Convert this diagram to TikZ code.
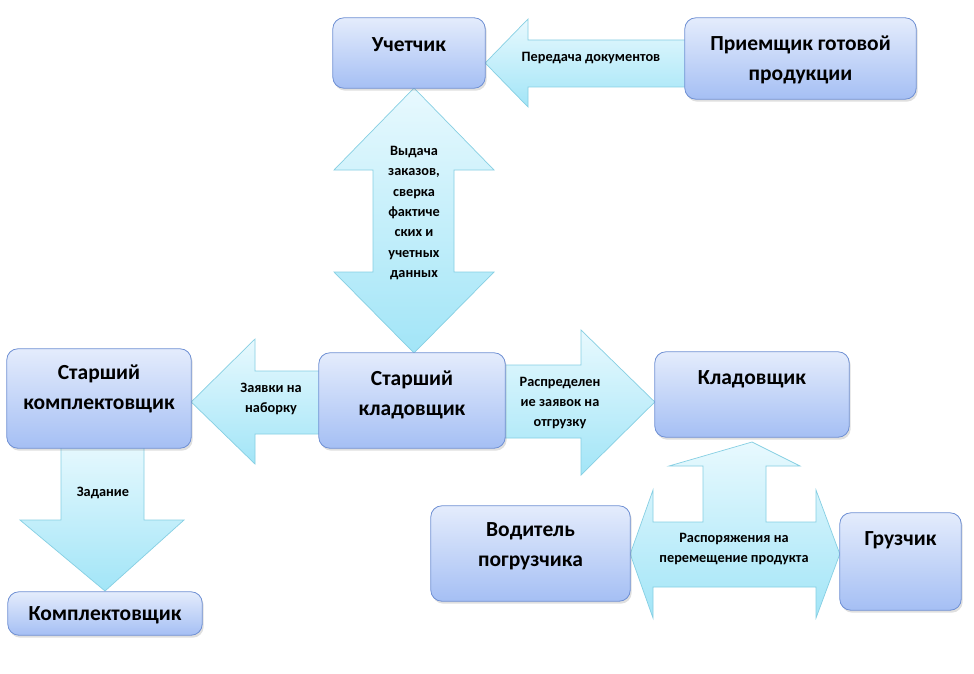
\documentclass[tikz,border=0pt]{standalone}
\usepackage{fontspec}
\setmainfont{Carlito}
\usetikzlibrary{shadows}
\definecolor{boxtop}{HTML}{E4ECFC}
\definecolor{boxbot}{HTML}{A5BFF4}
\definecolor{boxline}{HTML}{6F90D4}
\definecolor{arrtop}{HTML}{E8F9FE}
\definecolor{arrbot}{HTML}{A2E5F7}
\definecolor{arrline}{HTML}{86CFE3}
\begin{document}
\begin{tikzpicture}[x=1pt,y=-1pt,
 box/.style={draw=boxline, line width=0.8pt, rounded corners=11pt, top color=boxtop, bottom color=boxbot,
   drop shadow={opacity=0.25, shadow xshift=1.5pt, shadow yshift=-2.5pt}, inner sep=0pt},
 btxt/.style={font=\fontsize{21.5}{30}\selectfont\bfseries, align=center, inner sep=0pt},
 atxt/.style={font=\fontsize{14.3}{20.3}\selectfont\bfseries, align=center, inner sep=0pt},
 arr/.style={draw=arrline, line width=0.7pt, top color=arrtop, bottom color=arrbot, line join=miter}]
\fill[white] (0,0) rectangle (974,674);
\useasboundingbox (0,0) rectangle (974,674);

% ---------- boxes (placed first as named nodes, drawn later on top) ----------
\path
 (409,53)     node[minimum width=152pt, minimum height=70pt] (uch) {}
 (800.5,58.5) node[minimum width=231pt, minimum height=81pt] (prm) {}
 (412,400.5)  node[minimum width=186pt, minimum height=95pt] (skl) {}
 (99,398.5)   node[minimum width=184pt, minimum height=99pt] (skm) {}
 (752,394.5)  node[minimum width=194pt, minimum height=85pt] (kl) {}
 (530.5,553.5) node[minimum width=199pt, minimum height=95pt] (vod) {}
 (900.5,561.5) node[minimum width=121pt, minimum height=97pt] (gr) {}
 (105,613.5)  node[minimum width=194pt, minimum height=43pt] (km) {};

% ---------- arrows ----------
% Передача документов
\draw[arr] (uch.east |- 0,63) -- (528,19) -- (528,40) -- (700,40) -- (700,87) -- (528,87) -- (528,107) -- cycle;
% Выдача заказов (double vertical)
\draw[arr] (414,88) -- (494,170) -- (454,170) -- (454,272) -- (494,272) -- (414,353)
   -- (334,272) -- (373,272) -- (373,170) -- (334,170) -- cycle;
% Заявки на наборку
\draw[arr] (skm.east |- 0,402) -- (255,339) -- (255,371) -- (330,371) -- (330,434) -- (255,434) -- (255,464) -- cycle;
% Распределение заявок
\draw[arr] (495,365) -- (581,365) -- (581,330) -- (kl.west |- 0,402) -- (581,475) -- (581,438) -- (495,438) -- cycle;
% Распоряжения (three-way)
\draw[arr] (kl.south |- 0,442) -- (800,466) -- (766,466) -- (766,522) -- (816,522) -- (816,490)
   -- (gr.west |- 0,554) -- (816,618) -- (816,587) -- (653,587) -- (653,618) -- (vod.east |- 0,554)
   -- (653,490) -- (653,522) -- (703,522) -- (703,466) -- (669,466) -- cycle;
% Задание
\draw[arr] (61,440) -- (144,440) -- (144,520) -- (184,520) -- (km.north |- 0,591) -- (20,520) -- (61,520) -- cycle;

% ---------- boxes drawn ----------
\foreach \n in {uch,prm,skl,skm,kl,vod,gr,km}
  \path[box] (\n.south west) rectangle (\n.north east);

% ---------- box texts ----------
\node[btxt] (uchT) at (409,45) {Учетчик};
\node[btxt] (prmT) at (800.5,60) {Приемщик готовой\\продукции};
\node[btxt] (sklT) at (412,395) {Старший\\кладовщик};
\node[btxt] (skmT) at (99,389) {Старший\\комплектовщик};
\node[btxt] (klT) at (752,379) {Кладовщик};
\node[btxt] (vodT) at (530.5,546) {Водитель\\погрузчика};
\node[btxt] (grT) at (900.5,540) {Грузчик};
\node[btxt] (kmT) at (105,615) {Комплектовщик};

% ---------- arrow texts ----------
\node[atxt] (t1) at (591,58) {Передача документов};
\node[atxt] (t2) at (414,213) {Выдача\\заказов,\\сверка\\фактиче\\ских и\\учетных\\данных};
\node[atxt] (t3) at (271,399) {Заявки на\\наборку};
\node[atxt] (t4) at (560,403) {Распределен\\ие заявок на\\отгрузку};
\node[atxt] (t5) at (734,549) {Распоряжения на\\перемещение продукта};
\node[atxt] (t6) at (103,493) {Задание};
\end{tikzpicture}
\end{document}
